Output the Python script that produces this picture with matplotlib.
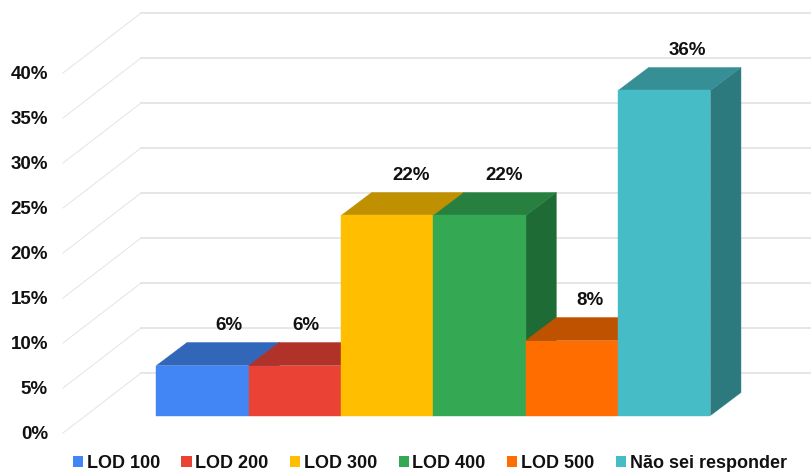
import matplotlib
matplotlib.use("Agg")
import matplotlib.pyplot as plt
from matplotlib.patches import Patch, Polygon

plt.rcParams['font.family'] = ['Liberation Sans', 'DejaVu Sans']

categories = ["LOD 100", "LOD 200", "LOD 300", "LOD 400", "LOD 500", "Não sei responder"]
counts = [2, 2, 8, 8, 3, 13]
total = 36
percents = [c / total * 100 for c in counts]
y_ticks = [0, 5, 10, 15, 20, 25, 30, 35, 40]
front_colors = ["#4285F4", "#EA4335", "#FFBF00", "#34A853", "#FF6D01", "#46BDC6"]
top_colors = ["#3266B8", "#B03228", "#BF9000", "#27803F", "#BF5201", "#378F96"]
side_colors = ["#2A5AA0", "#96291F", "#A37B00", "#1F6B35", "#A34600", "#2C7A7E"]
label_shift = [26, 11, 24, 24, 18, 23]  # pixels right of each bar's centre

W, H = 812, 473
PX_X = 92.33   # pixels per bar
PX_Y = 9.0     # pixels per percentage point
BAR_LEFT = 156.5
BAR_BASE = 415.5

# depth offsets of the box, in data units
DX = 30.5 / PX_X
DY = 23.0 / PX_Y
# back wall and front floor edge relative to the bars
WALL_X = (141 - BAR_LEFT) / PX_X
WALL_Y = (BAR_BASE - 373) / PX_Y
EDGE_X = (63 - BAR_LEFT) / PX_X
EDGE_Y = (BAR_BASE - 433) / PX_Y

fig = plt.figure(figsize=(W / 100, H / 100), dpi=100)
ax = fig.add_axes([0, 0, 1, 1])
ax.set_xlim(-BAR_LEFT / PX_X, (W - BAR_LEFT) / PX_X)
ax.set_ylim((BAR_BASE - H) / PX_Y, BAR_BASE / PX_Y)
ax.axis("off")

# back wall gridlines and the slanted lines on the side wall
for v in y_ticks:
    ax.plot([WALL_X, ax.get_xlim()[1]], [v + WALL_Y] * 2, color="#E2E2E2", lw=1.2, zorder=1)
    ax.plot([EDGE_X, WALL_X], [v + EDGE_Y, v + WALL_Y], color="#E4E4E4", lw=0.7, zorder=1)
    ax.text(EDGE_X - 15 / PX_X, v + EDGE_Y - 0.2, f"{v}%", ha="right", va="center",
            fontsize=13.5, fontweight="bold", color="#111111", zorder=5)

# bars, painted left to right so each one covers the side of the previous
for i, p in enumerate(percents):
    z = 2 + i
    ax.add_patch(Polygon([(i + 1, 0), (i + 1 + DX, DY), (i + 1 + DX, p + DY), (i + 1, p)],
                         facecolor=side_colors[i], edgecolor=side_colors[i], lw=0.3, zorder=z))
    ax.add_patch(Polygon([(i, p), (i + DX, p + DY), (i + 1 + DX, p + DY), (i + 1, p)],
                         facecolor=top_colors[i], edgecolor=top_colors[i], lw=0.3, zorder=z))
    ax.bar(i + 0.5, p, width=1.0, color=front_colors[i], edgecolor=front_colors[i], lw=0.3, zorder=z)
    ax.text(i + 0.5 + label_shift[i] / PX_X, p + 40 / PX_Y, f"{p:.0f}%", ha="center", va="center",
            fontsize=13.5, fontweight="bold", color="#111111", zorder=10)

handles = [Patch(facecolor=c, edgecolor="none", label=n) for c, n in zip(front_colors, categories)]
fig.legend(handles=handles, ncol=6, loc="lower left", bbox_to_anchor=(71 / W, -1 / H),
           frameon=False, prop={"weight": "bold", "size": 13},
           handlelength=0.56, handleheight=0.56, handletextpad=0.2, columnspacing=1.2,
           borderpad=0.1, borderaxespad=0.0, labelcolor="#111111")

fig.savefig("out.png", dpi=100)
